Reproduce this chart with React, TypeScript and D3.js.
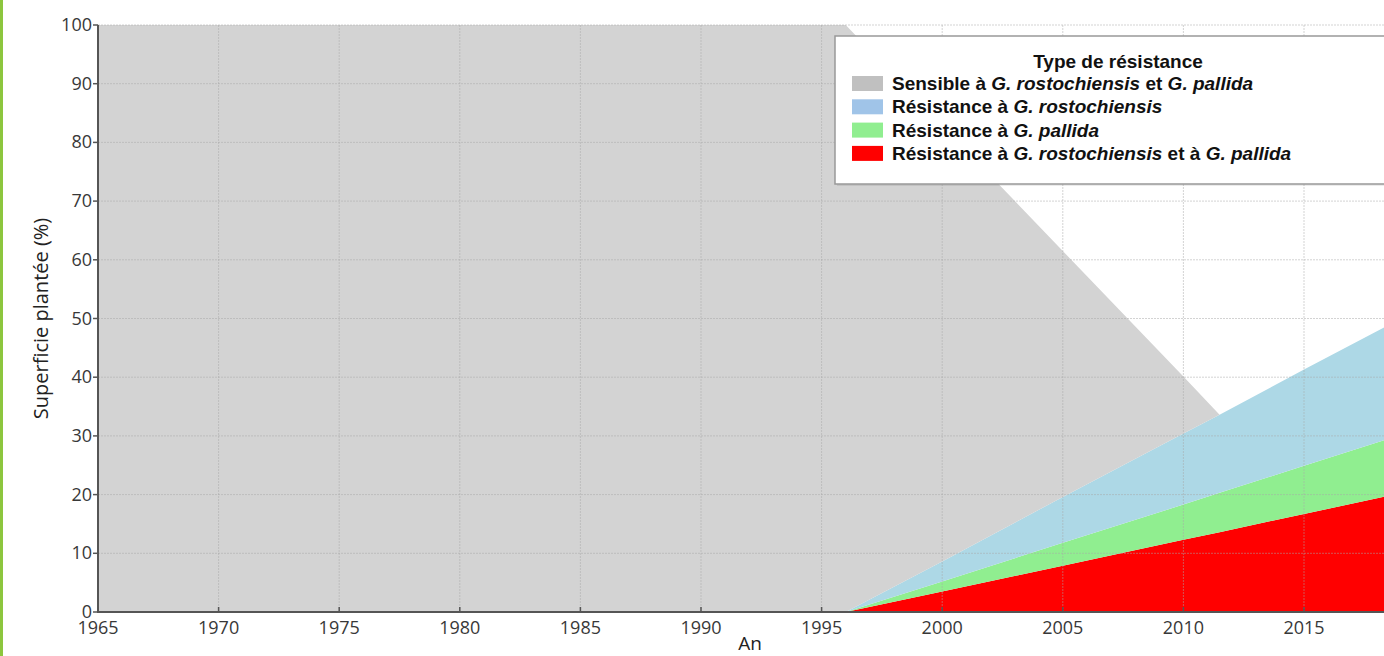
import * as d3 from 'd3';

// Years with a change of slope, and the planted area share (%) for each resistance type
const years = [1965, 1996, 2000, 2005, 2010, 2011.5, 2015, 2020];
const redValues = [0, 0, 3.5, 7.9, 12.3, 13.6, 16.7, 21.1];
const greenValues = [0, 0, 1.7, 3.9, 6.0, 6.7, 8.2, 10.4];
const blueValues = [0, 0, 3.4, 7.8, 12.1, 13.3, 16.4, 20.6];
const greyValues = [100, 100, 74.3, 41.9, 9.7, 0, 0, 0];

const xTicks = [1965, 1970, 1975, 1980, 1985, 1990, 1995, 2000, 2005, 2010, 2015, 2020];
const yTicks = [0, 10, 20, 30, 40, 50, 60, 70, 80, 90, 100];

const seriesKeys = ['red', 'green', 'blue', 'grey'];
const areaColors: Record<string, string> = {
  red: '#ff0000',
  green: '#90ee90',
  blue: '#add8e6',
  grey: '#d3d3d3',
};

type Part = { text: string; italic?: boolean };
const legendItems: { color: string; parts: Part[] }[] = [
  {
    color: '#c0c0c0',
    parts: [
      { text: 'Sensible à ' },
      { text: 'G. rostochiensis', italic: true },
      { text: ' et ' },
      { text: 'G. pallida', italic: true },
    ],
  },
  {
    color: '#a0c4e8',
    parts: [{ text: 'Résistance à ' }, { text: 'G. rostochiensis', italic: true }],
  },
  {
    color: '#90ee90',
    parts: [{ text: 'Résistance à ' }, { text: 'G. pallida', italic: true }],
  },
  {
    color: '#ff0000',
    parts: [
      { text: 'Résistance à ' },
      { text: 'G. rostochiensis', italic: true },
      { text: ' et à ' },
      { text: 'G. pallida', italic: true },
    ],
  },
];

const W = 1384;
const H = 656;
const left = 98;
const top = 25;
const bottom = 612;

export default function App() {
  const x = d3.scaleLinear().domain([1965, 2020]).range([left, left + 55 * 24.12]);
  const y = d3.scaleLinear().domain([0, 100]).range([bottom, top]);

  const rows = years.map((yr, i) => ({
    year: yr,
    red: redValues[i],
    green: greenValues[i],
    blue: blueValues[i],
    grey: greyValues[i],
  }));
  const stacked = d3.stack<any>().keys(seriesKeys)(rows);
  const area = d3
    .area<any>()
    .x((d) => x(d.data.year))
    .y0((d) => y(d[0]))
    .y1((d) => y(d[1]));

  const tickFont = { fontFamily: 'Open Sans', fontSize: 18, fill: '#383838' };
  // only the ticks that fall inside the picture
  const shownX = xTicks.filter((t) => x(t) < W - 20);

  return (
    <div style={{ position: 'absolute', left: 0, top: 0 }}>
      <svg width={W} height={H} style={{ display: 'block', background: '#fff' }}>
        <defs>
          <clipPath id="plot">
            <rect x={left} y={top - 1} width={W - left} height={bottom - top + 1} />
          </clipPath>
        </defs>
        <rect x={0} y={0} width={3} height={H} fill="#8cc63e" />

        <g clipPath="url(#plot)">
          {stacked.map((s) => (
            <path key={s.key} d={area(s) || ''} fill={areaColors[s.key]} />
          ))}
        </g>

        {/* grid */}
        <g stroke="#a8a8a8" strokeOpacity={0.5} strokeWidth={1} strokeDasharray="2,1">
          {shownX
            .filter((t) => t > 1965)
            .map((t) => (
              <line key={'gx' + t} x1={x(t)} x2={x(t)} y1={top} y2={bottom} />
            ))}
          {yTicks
            .filter((t) => t > 0)
            .map((t) => (
              <line key={'gy' + t} x1={left} x2={W} y1={y(t)} y2={y(t)} />
            ))}
        </g>

        {/* spines */}
        <line x1={left} x2={left} y1={top} y2={bottom + 1} stroke="#555" strokeWidth={2} />
        <line x1={left - 1} x2={W} y1={bottom} y2={bottom} stroke="#555" strokeWidth={2} />

        {/* y ticks */}
        {yTicks.map((t) => (
          <g key={'yt' + t}>
            <line x1={left - 5} x2={left} y1={y(t)} y2={y(t)} stroke="#555" strokeWidth={1.5} />
            <text x={left - 6} y={y(t) + 6} textAnchor="end" {...tickFont}>
              {t}
            </text>
          </g>
        ))}

        {/* x ticks */}
        {shownX.map((t) => (
          <g key={'xt' + t}>
            <line x1={x(t)} x2={x(t)} y1={bottom - 5} y2={bottom} stroke="#555" strokeWidth={1.5} />
            <text x={x(t)} y={bottom + 22} textAnchor="middle" {...tickFont}>
              {t}
            </text>
          </g>
        ))}

        <text
          x={750}
          y={650}
          textAnchor="middle"
          fontFamily="Open Sans"
          fontSize={19}
          fill="#222"
        >
          An
        </text>
        <text
          transform={`translate(48,${(top + bottom) / 2}) rotate(-90)`}
          textAnchor="middle"
          fontFamily="Open Sans"
          fontSize={20}
          fill="#222"
        >
          Superficie plantée (%)
        </text>

        {/* legend */}
        <g fontFamily="Liberation Sans" fontWeight="bold" fontSize={19} fill="#111">
          <rect x={837} y={38} width={620} height={148} fill="#000" opacity={0.08} />
          <rect x={835} y={36} width={620} height={148} fill="#fff" stroke="#999" strokeWidth={1.5} />
          <text x={1118} y={68} textAnchor="middle">
            Type de résistance
          </text>
          {legendItems.map((item, i) => {
            const base = 90 + i * 23.3;
            return (
              <g key={'lg' + i}>
                <rect x={852} y={base - 14} width={31} height={15} fill={item.color} />
                <text x={892} y={base}>
                  {item.parts.map((p, j) => (
                    <tspan key={j} fontStyle={p.italic ? 'italic' : 'normal'}>
                      {p.text}
                    </tspan>
                  ))}
                </text>
              </g>
            );
          })}
        </g>
      </svg>
    </div>
  );
}
